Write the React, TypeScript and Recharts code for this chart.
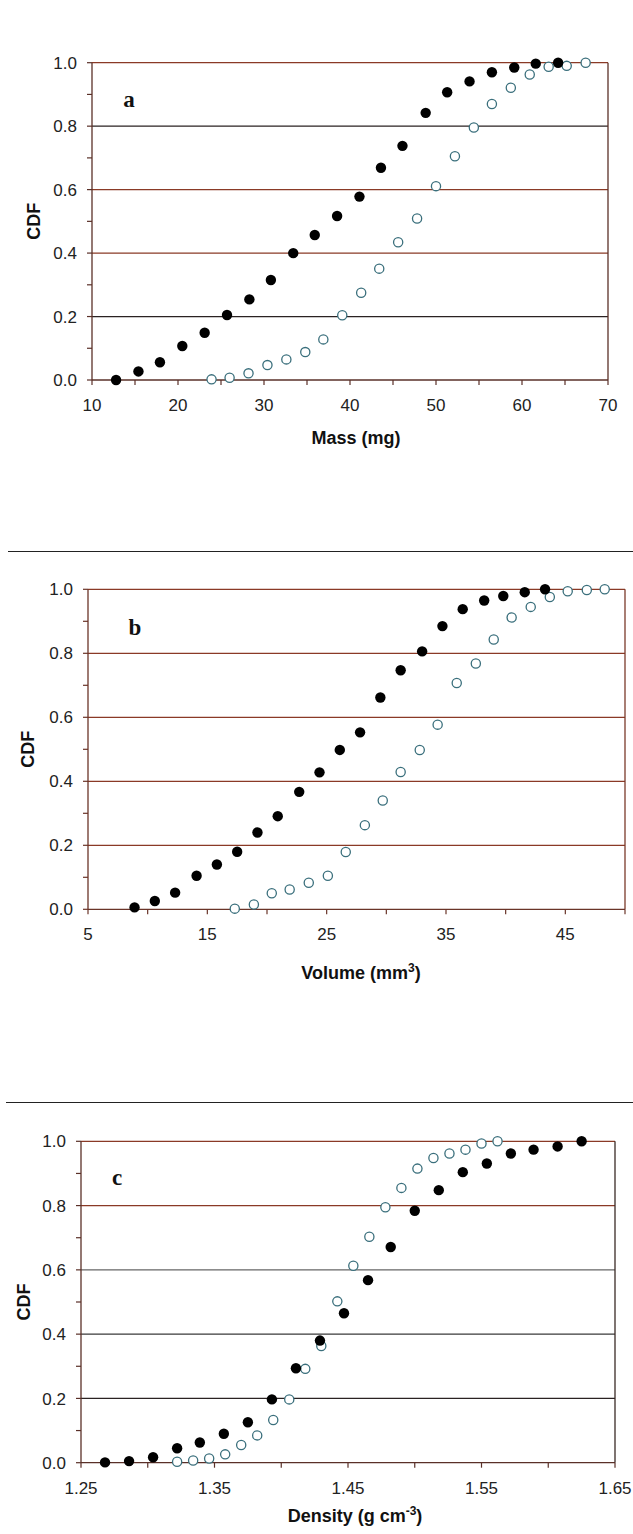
import React from 'react';
import { ScatterChart, Scatter, XAxis, YAxis, ReferenceLine } from 'recharts';

// panel a: mass (mg)
const massFilledX = [12.8, 15.4, 17.9, 20.5, 23.1, 25.7, 28.3, 30.8, 33.4, 35.9, 38.5, 41.1, 43.6, 46.1, 48.8, 51.3, 53.9, 56.5, 59.1, 61.6, 64.2];
const massFilledY = [0.0, 0.027, 0.056, 0.107, 0.149, 0.205, 0.254, 0.315, 0.4, 0.457, 0.517, 0.578, 0.669, 0.738, 0.842, 0.907, 0.941, 0.97, 0.985, 0.997, 1.0];
const massOpenX = [23.9, 26.0, 28.2, 30.4, 32.6, 34.8, 36.9, 39.1, 41.3, 43.4, 45.6, 47.8, 50.0, 52.2, 54.4, 56.5, 58.7, 60.9, 63.1, 65.2, 67.4];
const massOpenY = [0.002, 0.007, 0.021, 0.047, 0.065, 0.088, 0.128, 0.204, 0.275, 0.351, 0.434, 0.509, 0.611, 0.705, 0.796, 0.87, 0.921, 0.963, 0.987, 0.99, 1.0];

// panel b: volume (mm3)
const volFilledX = [8.9, 10.6, 12.3, 14.1, 15.8, 17.5, 19.2, 20.9, 22.7, 24.4, 26.1, 27.8, 29.5, 31.2, 33.0, 34.7, 36.4, 38.2, 39.8, 41.6, 43.3];
const volFilledY = [0.006, 0.026, 0.052, 0.105, 0.14, 0.18, 0.24, 0.291, 0.367, 0.428, 0.498, 0.553, 0.662, 0.747, 0.806, 0.885, 0.938, 0.965, 0.979, 0.991, 1.0];
const volOpenX = [17.3, 18.9, 20.4, 21.9, 23.5, 25.1, 26.6, 28.2, 29.7, 31.2, 32.8, 34.3, 35.9, 37.5, 39.0, 40.5, 42.1, 43.7, 45.2, 46.8, 48.3];
const volOpenY = [0.002, 0.015, 0.05, 0.062, 0.083, 0.105, 0.179, 0.263, 0.34, 0.429, 0.498, 0.577, 0.707, 0.768, 0.843, 0.912, 0.945, 0.976, 0.994, 0.998, 1.0];

// panel c: density (g cm-3)
const denFilledX = [1.268, 1.286, 1.304, 1.322, 1.339, 1.357, 1.375, 1.393, 1.411, 1.429, 1.447, 1.465, 1.482, 1.5, 1.518, 1.536, 1.554, 1.572, 1.589, 1.607, 1.625];
const denFilledY = [0.001, 0.005, 0.017, 0.045, 0.063, 0.09, 0.126, 0.197, 0.294, 0.38, 0.465, 0.568, 0.671, 0.784, 0.848, 0.904, 0.931, 0.962, 0.974, 0.984, 1.0];
const denOpenX = [1.322, 1.334, 1.346, 1.358, 1.37, 1.382, 1.394, 1.406, 1.418, 1.43, 1.442, 1.454, 1.466, 1.478, 1.49, 1.502, 1.514, 1.526, 1.538, 1.55, 1.562];
const denOpenY = [0.003, 0.007, 0.013, 0.026, 0.055, 0.085, 0.133, 0.197, 0.292, 0.363, 0.502, 0.613, 0.703, 0.795, 0.855, 0.915, 0.948, 0.962, 0.974, 0.993, 1.0];

// axes
const yTicks = [0, 0.1, 0.2, 0.3, 0.4, 0.5, 0.6, 0.7, 0.8, 0.9, 1.0];
const yLabels = [0, 0.2, 0.4, 0.6, 0.8, 1.0];
const gridY = [0.2, 0.4, 0.6, 0.8, 1.0];
const massTicks = [10, 15, 20, 25, 30, 35, 40, 45, 50, 55, 60, 65, 70];
const massLabels = [10, 20, 30, 40, 50, 60, 70];
const volTicks = [5, 10, 15, 20, 25, 30, 35, 40, 45, 50];
const volLabels = [5, 15, 25, 35, 45];
const denTicks = [1.25, 1.3, 1.35, 1.4, 1.45, 1.5, 1.55, 1.6, 1.65];
const denLabels = [1.25, 1.35, 1.45, 1.55, 1.65];

const SANS = '"Liberation Sans", Arial, sans-serif';
const SERIF = '"Liberation Serif", "Times New Roman", serif';
const W = 633;
const RED = '#8a3a26';
const DARK = '#2a2222';

type Pt = { x: number; y: number };
const zip = (xs: number[], ys: number[]): Pt[] => xs.map((x, i) => ({ x, y: ys[i] }));
const has = (list: number[], v: number) => list.some((l) => Math.abs(l - v) < 1e-6);

interface PanelProps {
  top: number;
  height: number;
  plotLeft: number;
  plotRight: number;
  plotTop: number;
  plotBottom: number;
  xDomain: [number, number];
  xTicks: number[];
  xLabels: number[];
  xDigits: number;
  filled: Pt[];
  open: Pt[];
  gridColors: string[];
  axisColor: string;
  borderColor: string;
  letter: string;
  letterX: number;
  letterY: number;
  title: React.ReactNode;
  titleX: number;
  titleY: number;
  cdfX: number;
}

function Panel(p: PanelProps) {
  const xAxisH = 30;
  const margin = {
    top: p.plotTop - p.top,
    right: W - p.plotRight,
    left: 0,
    bottom: p.height - (p.plotBottom - p.top) - xAxisH,
  };
  const cdfY = (p.plotTop + p.plotBottom) / 2 - p.top;

  const xTick = (props: any) => {
    const { x, y, payload } = props;
    if (!has(p.xLabels, payload.value)) return <g />;
    return (
      <text x={x} y={y} dy="0.71em" textAnchor="middle" fontSize={17} fill="#222" fontFamily={SANS}>
        {payload.value.toFixed(p.xDigits)}
      </text>
    );
  };
  const yTick = (props: any) => {
    const { x, y, payload } = props;
    if (!has(yLabels, payload.value)) return <g />;
    return (
      <text x={x} y={y} dy="0.36em" textAnchor="end" fontSize={17} fill="#222" fontFamily={SANS}>
        {payload.value.toFixed(1)}
      </text>
    );
  };

  const titles = () => (
    <g>
      <text
        x={p.cdfX}
        y={cdfY}
        transform={`rotate(-90 ${p.cdfX} ${cdfY})`}
        textAnchor="middle"
        dominantBaseline="central"
        fontSize={18}
        fontWeight="bold"
        fill="#111"
        fontFamily={SANS}
      >
        CDF
      </text>
      <text x={p.letterX} y={p.letterY - p.top} textAnchor="middle" fontSize={23} fontWeight="bold" fill="#111" fontFamily={SERIF}>
        {p.letter}
      </text>
    </g>
  );
  const xTitle = () => (
    <text x={p.titleX} y={p.titleY - p.top} textAnchor="middle" fontSize={18} fontWeight="bold" fill="#111" fontFamily={SANS}>
      {p.title}
    </text>
  );

  return (
    <div style={{ position: 'absolute', left: 0, top: p.top, width: W, height: p.height }}>
      <ScatterChart width={W} height={p.height} margin={margin}>
        <XAxis
          type="number"
          dataKey="x"
          domain={p.xDomain}
          ticks={p.xTicks}
          interval={0}
          height={xAxisH}
          tickSize={5}
          tickMargin={14}
          tick={xTick}
          axisLine={{ stroke: p.axisColor, strokeWidth: 1.3 }}
          tickLine={{ stroke: p.axisColor, strokeWidth: 1.2 }}
          label={{ content: xTitle }}
        />
        <YAxis
          type="number"
          dataKey="y"
          domain={[0, 1]}
          ticks={yTicks}
          interval={0}
          width={p.plotLeft}
          tickSize={5}
          tickMargin={10}
          tick={yTick}
          axisLine={{ stroke: p.axisColor, strokeWidth: 1.3 }}
          tickLine={{ stroke: p.axisColor, strokeWidth: 1.2 }}
          label={{ content: titles }}
        />
        {gridY.map((v, i) => (
          <ReferenceLine key={v} y={v} stroke={p.gridColors[i]} strokeWidth={1.3} />
        ))}
        <ReferenceLine x={p.xDomain[1]} stroke={p.borderColor} strokeWidth={1.3} />
        <Scatter
          data={p.open}
          isAnimationActive={false}
          shape={(s: any) => <circle cx={s.cx} cy={s.cy} r={4.6} fill="#fff" stroke="#3a6f7c" strokeWidth={1.3} />}
        />
        <Scatter
          data={p.filled}
          isAnimationActive={false}
          shape={(s: any) => <circle cx={s.cx} cy={s.cy} r={5.2} fill="#000" />}
        />
      </ScatterChart>
    </div>
  );
}

const sup = (t: string) => (
  <>
    <tspan dy={-7} fontSize={12}>
      {t}
    </tspan>
    <tspan dy={7}>)</tspan>
  </>
);

export default function App() {
  return (
    <div style={{ position: 'absolute', left: 0, top: 0, width: W, height: 1534, background: '#fff' }}>
      <Panel
        top={0}
        height={470}
        plotLeft={92}
        plotRight={608}
        plotTop={62.7}
        plotBottom={380}
        xDomain={[10, 70]}
        xTicks={massTicks}
        xLabels={massLabels}
        xDigits={0}
        filled={zip(massFilledX, massFilledY)}
        open={zip(massOpenX, massOpenY)}
        gridColors={[DARK, RED, RED, DARK, RED]}
        axisColor="#5a3028"
        borderColor="#5a3028"
        letter="a"
        letterX={129}
        letterY={107}
        title="Mass (mg)"
        titleX={356}
        titleY={444}
        cdfX={34}
      />
      <div style={{ position: 'absolute', left: 8, top: 551, width: W - 8, height: 1.3, background: '#222' }} />
      <Panel
        top={560}
        height={460}
        plotLeft={88}
        plotRight={625}
        plotTop={589.3}
        plotBottom={909.3}
        xDomain={[5, 50]}
        xTicks={volTicks}
        xLabels={volLabels}
        xDigits={0}
        filled={zip(volFilledX, volFilledY)}
        open={zip(volOpenX, volOpenY)}
        gridColors={[RED, RED, RED, RED, RED]}
        axisColor="#6a3428"
        borderColor="#7a3a2a"
        letter="b"
        letterX={135}
        letterY={635}
        title={<>Volume (mm{sup('3')}</>}
        titleX={361}
        titleY={979}
        cdfX={28}
      />
      <div style={{ position: 'absolute', left: 6, top: 1102, width: W - 6, height: 1.3, background: '#222' }} />
      <Panel
        top={1110}
        height={424}
        plotLeft={81}
        plotRight={615}
        plotTop={1141.3}
        plotBottom={1462.7}
        xDomain={[1.25, 1.65]}
        xTicks={denTicks}
        xLabels={denLabels}
        xDigits={2}
        filled={zip(denFilledX, denFilledY)}
        open={zip(denOpenX, denOpenY)}
        gridColors={[DARK, '#3a3a3a', '#666666', RED, RED]}
        axisColor="#5a3028"
        borderColor="#3a2a26"
        letter="c"
        letterX={117}
        letterY={1185}
        title={<>Density (g cm{sup('-3')}</>}
        titleX={355}
        titleY={1522}
        cdfX={24}
      />
    </div>
  );
}
